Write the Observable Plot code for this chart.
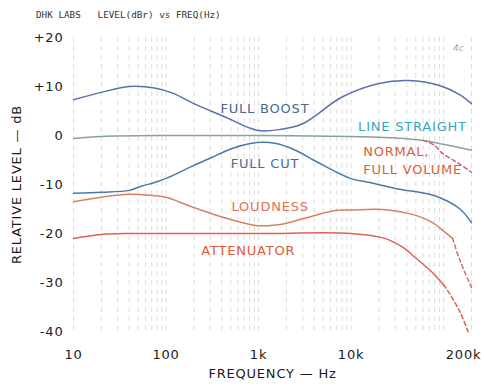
<!DOCTYPE html>
<html><head><meta charset="utf-8">
<script src="https://cdn.jsdelivr.net/npm/d3@7"></script>
<script src="https://cdn.jsdelivr.net/npm/@observablehq/plot@0.6"></script>
<style>
body{margin:0;background:#fff;}
#wrap{position:relative;width:484px;height:388px;}
#hdr{position:absolute;left:36px;top:9px;font:9.3px "DejaVu Sans Mono",monospace;color:#333;white-space:pre;}
#mark{position:absolute;left:453px;top:43px;font:9px "DejaVu Sans";color:#aaa;font-style:italic;}
svg text{letter-spacing:0.8px;}
</style></head><body>
<div id="wrap"><div id="hdr">DHK LABS   LEVEL(dBr) vs FREQ(Hz)</div><div id="mark">4c</div></div>
<script>
// ---- data ----
const boostF  = [10,20,40,75,120,200,470,780,1000,1650,3000,7900,20000,42000,90000,150000,200000];
const boostDb = [7.3,8.8,10,9.7,8.6,6.5,3.5,1.6,1.0,1.2,2.4,7.8,10.6,11.2,10.2,8.3,6.5];

const cutF  = [10,20,40,53,75,105,200,310,510,840,1100,1500,2500,4000,10000,16000,30000,80000,150000,200000];
const cutDb = [-11.8,-11.6,-11.2,-10.4,-9.6,-8.6,-6.1,-4.5,-2.7,-1.6,-1.4,-1.6,-3.0,-5.1,-8.8,-9.6,-10.8,-12.3,-15,-17.8];

const straightF  = [10,20,100,1000,10000,30000,60000,100000,200000];
const straightDb = [-0.6,-0.2,0,0,-0.2,-0.5,-1,-1.8,-3];

const normalTailF  = [60000,80000,95000,140000,200000];
const normalTailDb = [-1,-2,-3.5,-5.5,-7.5];

const loudF  = [10,20,40,75,100,200,470,1000,1900,3000,6700,10000,22000,50000,76000,100000,125000];
const loudDb = [-13.5,-12.6,-12,-12.3,-12.6,-14.7,-17,-18.4,-18,-17,-15.3,-15.2,-15.1,-16.3,-17.8,-19.5,-21];
const loudTailF  = [125000,150000,200000];
const loudTailDb = [-21,-25.5,-31];

const attF  = [10,20,40,100,1000,10000,23000,36000,50000,76000,100000];
const attDb = [-21,-20.2,-20,-20,-20,-20,-21,-22.8,-25,-28,-30.5];
const attTailF  = [100000,110000,150000,185000];
const attTailDb = [-30.5,-31.6,-36,-40.2];

const xTicks = [10,100,1000,10000,200000];
const xTickLabels = ["10","100","1k","10k","200k"];
const yTicks = [20,10,0,-10,-20,-30,-40];
const yTickLabels = ["+20","+10","0","-10","-20","-30","-40"];

const labelText = ["FULL BOOST","LINE STRAIGHT","NORMAL,","FULL VOLUME","FULL CUT","LOUDNESS","ATTENUATOR"];
const labelF    = [387,11900,13500,13500,500,510,240];
const labelDb   = [5.5,1.8,-3.4,-7.0,-5.7,-14.5,-23.5];
const labelColor= ["#4a6890","#36a9b8","#d8603a","#d8603a","#4a6a98","#e07050","#e05a3a"];

// ---- helpers ----
const pts = (f, db) => f.map((v, i) => ({f: v, db: db[i]}));
const labels = labelText.map((t, i) => ({t, f: labelF[i], db: labelDb[i], c: labelColor[i]}));
const gridF = [];
for (let e = 1; e <= 5; e++) for (let m = 1; m <= 9; m++) { const v = m * 10 ** e; if (v <= 200000) gridF.push(v); }
const xl = new Map(xTicks.map((d, i) => [d, xTickLabels[i]]));
const yl = new Map(yTicks.map((d, i) => [d, yTickLabels[i]]));

const lineOpts = (stroke, dash) => ({x: "f", y: "db", stroke, strokeWidth: 1.5, curve: "catmull-rom", strokeDasharray: dash});

const chart = Plot.plot({
  width: 484, height: 388,
  marginLeft: 73, marginRight: 13, marginTop: 37, marginBottom: 57,
  style: {fontFamily: "DejaVu Sans", fontSize: "13px", color: "#1a1a1a", background: "transparent"},
  x: {type: "log", domain: [10, 200000]},
  y: {domain: [-40, 20]},
  marks: [
    Plot.ruleX(gridF, {x: d => d, stroke: "#a9a9a0", strokeOpacity: 0.4, strokeDasharray: "5,4"}),
    Plot.axisX({ticks: xTicks.slice(0, 4), tickFormat: d => xl.get(d), tickSize: 0, tickPadding: 18,
      label: "FREQUENCY — Hz", labelAnchor: "center", labelArrow: "none", labelOffset: 46}),
    Plot.axisX({ticks: xTicks.slice(4), tickFormat: d => xl.get(d), tickSize: 0, tickPadding: 18, dx: -8, label: null}),
    Plot.axisY({ticks: yTicks, tickFormat: d => yl.get(d), tickSize: 0, tickPadding: 10,
      label: "RELATIVE LEVEL — dB", labelAnchor: "center", labelArrow: "none", labelOffset: 62}),
    Plot.line(pts(straightF, straightDb), lineOpts("#86a39a")),
    Plot.line(pts(normalTailF, normalTailDb), lineOpts("#d0607a", "4,3")),
    Plot.line(pts(boostF, boostDb), lineOpts("#5a70a8")),
    Plot.line(pts(cutF, cutDb), lineOpts("#4a7aa6")),
    Plot.line(pts(loudF, loudDb), lineOpts("#d88060")),
    Plot.line(pts(loudTailF, loudTailDb), lineOpts("#d86a6a", "4,3")),
    Plot.line(pts(attF, attDb), lineOpts("#e06050")),
    Plot.line(pts(attTailF, attTailDb), lineOpts("#d86050", "4,3")),
    Plot.text(labels, {x: "f", y: "db", text: "t", fill: "c", textAnchor: "start", fontSize: 13})
  ]
});
document.getElementById("wrap").prepend(chart);
</script>
</body></html>
